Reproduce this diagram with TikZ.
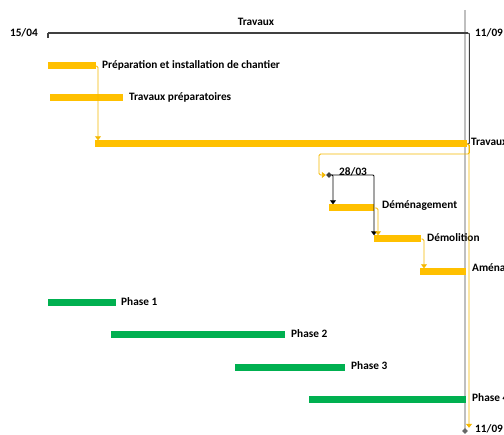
\documentclass[tikz,border=0pt]{standalone}
\usepackage{fontspec}
\setmainfont{Carlito}
\usetikzlibrary{arrows.meta,shapes.geometric}
\definecolor{gold}{HTML}{FFC000}
\definecolor{linkgold}{HTML}{F5B800}
\definecolor{grn}{HTML}{00B050}
\definecolor{dgrey}{HTML}{404040}
\definecolor{lgrey}{HTML}{BFBFBF}
\begin{document}
\begin{tikzpicture}[x=1pt,y=-1pt,
  ybar/.style={fill=gold, inner sep=0pt, minimum height=7pt, anchor=west},
  gbar/.style={fill=grn, inner sep=0pt, minimum height=7pt, anchor=west},
  lbl/.style={font=\bfseries\fontsize{11.3}{13}\selectfont, anchor=west, inner sep=0pt},
  link/.style={draw=linkgold, line width=0.9pt, rounded corners=1.5pt, -{Triangle[width=6pt,length=4pt]}},
  blink/.style={draw=black, line width=0.9pt, rounded corners=1pt, -{Triangle[width=6pt,length=4pt]}},
  mstone/.style={diamond, fill=dgrey, inner sep=0pt, minimum width=6pt, minimum height=6pt}]
\useasboundingbox (0,0) rectangle (504,435);
\clip (0,0) rectangle (504,435);
% grey today line
\draw[lgrey, line width=2pt] (465,10) -- (465,431);
% summary bar
\node[fill=dgrey, inner sep=0pt, minimum width=420pt, minimum height=2.5pt, anchor=west] (sum) at (48,33) {};
\draw[dgrey, line width=1.5pt] (48,33) -- (48,38);
\node[lbl, anchor=center] (tsum) at (256,22) {Travaux};
\node[lbl, anchor=east] (d1) at (38,33) {15/04};
\node[lbl] (d2) at (475,33) {11/09};
% yellow bars
\node[ybar, minimum width=48pt] (prep) at (48,66) {};
\node[lbl] (lprep) at (102,65) {Préparation et installation de chantier};
\node[ybar, minimum width=73pt] (tprep) at (50,98) {};
\node[lbl] (ltprep) at (129,97) {Travaux préparatoires};
\node[ybar, minimum width=372pt] (trav) at (95,144) {};
\node[lbl] (ltrav) at (471,142) {Travaux};
\node[mstone] (ms) at (329,175) {};
\node[lbl] (lms) at (339,172) {28/03};
\node[ybar, minimum width=45pt] (dem) at (329,208) {};
\node[lbl] (ldem) at (382,206) {Déménagement};
\node[ybar, minimum width=47pt] (demol) at (374,239) {};
\node[lbl] (ldemol) at (427,238) {Démolition};
\node[ybar, minimum width=46pt] (amen) at (420,272) {};
\node[lbl] (lamen) at (472,269) {Aménagement};
% green bars
\node[gbar, minimum width=68pt] (p1) at (48,303) {};
\node[lbl] (lp1) at (121,302) {Phase 1};
\node[gbar, minimum width=174pt] (p2) at (111,335) {};
\node[lbl] (lp2) at (291,334) {Phase 2};
\node[gbar, minimum width=110pt] (p3) at (235,368) {};
\node[lbl] (lp3) at (351,366) {Phase 3};
\node[gbar, minimum width=157pt] (p4) at (309,400) {};
\node[lbl] (lp4) at (472,398) {Phase 4};
% end milestone
\node[mstone, fill=dgrey!80] (end) at (465,431) {};
\node[lbl] (lend) at (475,429) {11/09};
% summary link
\draw[dgrey, line width=1pt, rounded corners=1pt] (sum.east) -- ++(1,0) |- (trav.east);
% connectors
\draw[link] (prep.east) -| ([xshift=3pt]trav.north west);
\draw[link] (trav.east) -- ++(2,0) -- ++(0,10) -| ([xshift=-10pt]ms.center) -- (ms.west);
\draw[link] (trav.east) -| ([xshift=4pt]end.north);
\draw[blink] (ms.east) -| ([xshift=4pt]dem.north west);
\draw[blink] (ms.east) -| (demol.north west);
\draw[link] (dem.east) -| ([xshift=4pt]demol.north west);
\draw[link] (demol.east) -| ([xshift=4pt]amen.north west);
\end{tikzpicture}
\end{document}
